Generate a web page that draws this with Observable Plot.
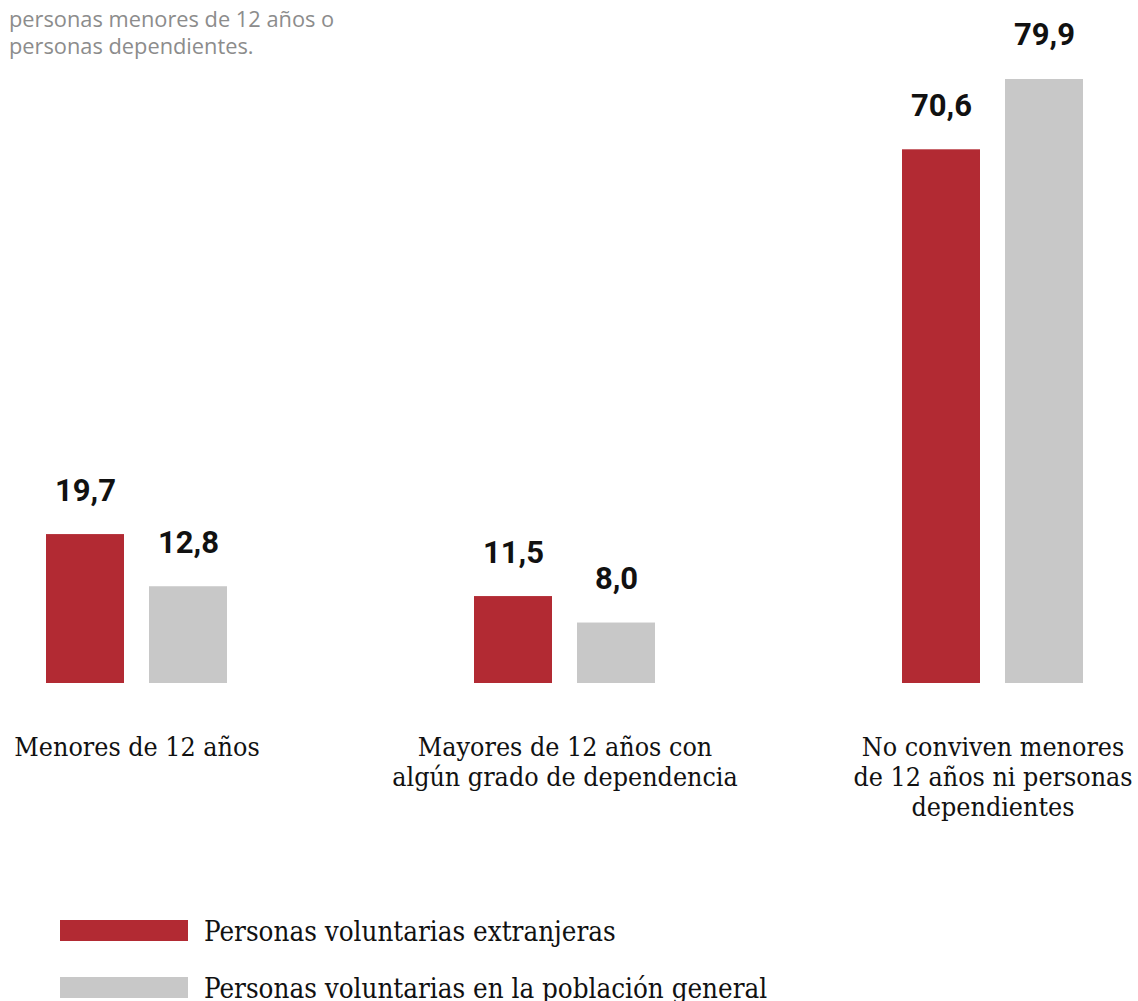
<!DOCTYPE html>
<html>
<head>
<meta charset="utf-8">
<script src="https://cdn.jsdelivr.net/npm/d3@7"></script>
<script src="https://cdn.jsdelivr.net/npm/@observablehq/plot@0.6"></script>
<style>
  html, body { margin: 0; padding: 0; background: #fff; }
  #wrap { position: relative; width: 1138px; height: 1001px; overflow: hidden; }
  #subtitle { position: absolute; left: 9px; top: 6px; font-family: "Open Sans", sans-serif; font-size: 21.8px; line-height: 26.5px; color: #8c8c8c; }
  #chart { position: absolute; left: 0; top: 0; }
  .leg { position: absolute; left: 60px; display: flex; align-items: center; font-family: "DejaVu Serif Condensed", "DejaVu Serif", serif; font-size: 27.5px; color: #111; }
  .sw { width: 128px; height: 21px; margin-right: 16px; }
</style>
</head>
<body>
<div id="wrap">
  <div id="chart"></div>
  <div id="subtitle"></div>
  <div id="legend"></div>
</div>
<script>
const categories = [
  "Menores de 12 años",
  "Mayores de 12 años con\nalgún grado de dependencia",
  "No conviven menores\nde 12 años ni personas\ndependientes"
];
const series = ["Personas voluntarias extranjeras", "Personas voluntarias en la población general"];
const extranjeras = [19.7, 11.5, 70.6];
const general = [12.8, 8.0, 79.9];
const colors = ["#b22a33", "#c8c8c8"];
const subtitleLines = ["personas menores de 12 años o", "personas dependientes."];

const data = [];
categories.forEach((c, i) => {
  data.push({cat: c, serie: series[0], value: extranjeras[i]});
  data.push({cat: c, serie: series[1], value: general[i]});
});
const fmt = v => v.toFixed(1).replace(".", ",");

const chart = Plot.plot({
  width: 1138,
  height: 880,
  marginTop: 0,
  marginLeft: 44,
  marginRight: 54,
  marginBottom: 197,
  fx: {domain: categories, paddingInner: 0.573, paddingOuter: 0, axis: null, label: null},
  x: {domain: series, paddingInner: 0.24, paddingOuter: 0, axis: null},
  y: {domain: [0, 90.35], axis: null},
  color: {domain: series, range: colors},
  marks: [
    Plot.barY(data, {fx: "cat", x: "serie", y: "value", fill: "serie"}),
    Plot.text(data, {fx: "cat", x: "serie", y: "value", text: d => fmt(d.value),
      lineAnchor: "bottom", dy: -34, fontSize: 31, fontWeight: 700,
      fontFamily: "Roboto", fill: "#111"}),
    Plot.text(categories, {fx: d => d, text: d => d, frameAnchor: "bottom",
      lineAnchor: "top", dy: 51, fontSize: 26.6, lineHeight: 1.13,
      fontFamily: "DejaVu Serif Condensed", fill: "#111"})
  ]
});
document.getElementById("chart").appendChild(chart);

document.getElementById("subtitle").innerHTML = subtitleLines.join("<br>");

const legend = document.getElementById("legend");
series.forEach((s, i) => {
  const row = document.createElement("div");
  row.className = "leg";
  row.style.top = (920 + i * 57 - 3) + "px";
  row.style.height = "27px";
  const sw = document.createElement("div");
  sw.className = "sw";
  sw.style.background = colors[i];
  const t = document.createElement("span");
  t.textContent = s;
  row.appendChild(sw);
  row.appendChild(t);
  legend.appendChild(row);
});
</script>
</body>
</html>
